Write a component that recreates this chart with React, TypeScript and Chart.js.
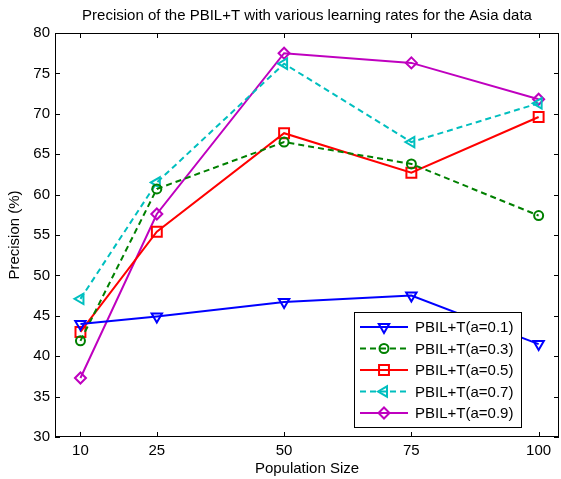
import React, { useEffect, useRef } from "react";
import { Chart, registerables } from "chart.js";
import { drawPoint } from "chart.js/helpers";
Chart.register(...registerables);

const popSizes = [10, 25, 50, 75, 100];
const a01 = [44.0, 44.9, 46.7, 47.5, 41.5];
const a03 = [41.9, 60.7, 66.5, 63.8, 57.4];
const a05 = [43.0, 55.4, 67.6, 62.7, 69.6];
const a07 = [47.1, 61.5, 76.2, 66.5, 71.3];
const a09 = [37.3, 57.6, 77.5, 76.3, 71.8];
const seriesLabels = ["PBIL+T(a=0.1)", "PBIL+T(a=0.3)", "PBIL+T(a=0.5)", "PBIL+T(a=0.7)", "PBIL+T(a=0.9)"];
const yTicks = [30, 35, 40, 45, 50, 55, 60, 65, 70, 75, 80];
const titleText = "Precision of the PBIL+T with various learning rates for the Asia data";
const xTitle = "Population Size";
const yTitle = "Precision (%)";

const FONT = "Liberation Sans, Arial, Helvetica, sans-serif";

const styles = [
  { color: "#0000ff", dash: [] as number[], pointStyle: "triangle", rotation: 180, radius: 6 },
  { color: "#008000", dash: [6, 4], pointStyle: "circle", rotation: 0, radius: 4.5 },
  { color: "#ff0000", dash: [] as number[], pointStyle: "rect", rotation: 0, radius: 7 },
  { color: "#00bfbf", dash: [6, 4], pointStyle: "triangle", rotation: 270, radius: 6 },
  { color: "#bf00bf", dash: [] as number[], pointStyle: "rectRot", rotation: 0, radius: 5.5 },
];

const allSeries = [a01, a03, a05, a07, a09];

const decorPlugin = {
  id: "decor",
  afterDraw(chart: any) {
    const ctx: CanvasRenderingContext2D = chart.ctx;
    const { left, right, top, bottom } = chart.chartArea;
    const xs = chart.scales.x;
    const ys = chart.scales.y;
    ctx.save();
    // box
    ctx.strokeStyle = "#000";
    ctx.lineWidth = 1;
    ctx.setLineDash([]);
    ctx.strokeRect(Math.round(left) + 0.5, Math.round(top) + 0.5, Math.round(right - left) - 1, Math.round(bottom - top) - 1);
    // ticks
    const tl = 5;
    ctx.beginPath();
    for (const v of yTicks) {
      const y = Math.round(ys.getPixelForValue(v)) + 0.5;
      ctx.moveTo(left, y); ctx.lineTo(left + tl, y);
      ctx.moveTo(right, y); ctx.lineTo(right - tl, y);
    }
    for (const v of popSizes) {
      const x = Math.round(xs.getPixelForValue(v)) + 0.5;
      ctx.moveTo(x, bottom); ctx.lineTo(x, bottom - tl);
      ctx.moveTo(x, top); ctx.lineTo(x, top + tl);
    }
    ctx.stroke();
    // titles
    ctx.fillStyle = "#000";
    ctx.textAlign = "center";
    ctx.textBaseline = "middle";
    ctx.font = `15px ${FONT}`;
    ctx.fillText(titleText, (left + right) / 2, 16);
    ctx.fillText(xTitle, (left + right) / 2, 469);
    ctx.save();
    ctx.translate(15, (top + bottom) / 2);
    ctx.rotate(-Math.PI / 2);
    ctx.fillText(yTitle, 0, 0);
    ctx.restore();
    // legend
    const lx0 = right - 205, lx1 = right - 38;
    const ly0 = bottom - 125, ly1 = bottom - 10;
    ctx.fillStyle = "#fff";
    ctx.fillRect(lx0, ly0, lx1 - lx0, ly1 - ly0);
    ctx.strokeStyle = "#000";
    ctx.lineWidth = 1;
    ctx.strokeRect(Math.round(lx0) + 0.5, Math.round(ly0) + 0.5, Math.round(lx1 - lx0), Math.round(ly1 - ly0));
    styles.forEach((s, i) => {
      const cy = ly0 + 15 + i * 21.5;
      ctx.strokeStyle = s.color;
      ctx.lineWidth = 2;
      ctx.setLineDash(s.dash);
      ctx.beginPath();
      ctx.moveTo(lx0 + 6, cy);
      ctx.lineTo(lx0 + 54, cy);
      ctx.stroke();
      ctx.setLineDash([]);
      ctx.fillStyle = "rgba(0,0,0,0)";
      drawPoint(ctx, { pointStyle: s.pointStyle, rotation: s.rotation, radius: s.radius, borderWidth: 2 } as any, lx0 + 30, cy);
      ctx.fillStyle = "#000";
      ctx.font = `15px ${FONT}`;
      ctx.textAlign = "left";
      ctx.textBaseline = "middle";
      ctx.fillText(seriesLabels[i], lx0 + 61, cy + 1);
    });
    ctx.restore();
  },
};

export default function App() {
  const ref = useRef<HTMLCanvasElement>(null);
  useEffect(() => {
    const chart = new Chart(ref.current!, {
      type: "line",
      data: {
        datasets: allSeries.map((arr, i) => ({
          label: seriesLabels[i],
          data: arr.map((v, j) => ({ x: popSizes[j], y: v })),
          borderColor: styles[i].color,
          backgroundColor: "rgba(0,0,0,0)",
          borderWidth: 2,
          borderDash: styles[i].dash,
          pointStyle: styles[i].pointStyle as any,
          rotation: styles[i].rotation,
          pointRadius: styles[i].radius,
          pointBorderWidth: 2,
          pointBorderColor: styles[i].color,
          pointBackgroundColor: "rgba(0,0,0,0)",
          tension: 0,
          fill: false,
        })),
      },
      plugins: [decorPlugin],
      options: {
        animation: false,
        responsive: false,
        devicePixelRatio: 1,
        layout: { autoPadding: false, padding: { top: 33, right: 2, left: 0, bottom: 0 } },
        plugins: { legend: { display: false }, title: { display: false }, tooltip: { enabled: false } },
        scales: {
          x: {
            type: "linear",
            min: 5,
            max: 104,
            afterBuildTicks: (s: any) => { s.ticks = popSizes.map((v) => ({ value: v })); },
            afterFit: (s: any) => { s.height = 42; },
            grid: { display: false, drawTicks: false },
            border: { display: false },
            ticks: { color: "#000", font: { family: FONT, size: 15 }, padding: 5, maxRotation: 0 },
          },
          y: {
            type: "linear",
            min: 30,
            max: 80,
            afterBuildTicks: (s: any) => { s.ticks = yTicks.map((v) => ({ value: v })); },
            afterFit: (s: any) => { s.width = 55; },
            grid: { display: false, drawTicks: false },
            border: { display: false },
            ticks: { color: "#000", font: { family: FONT, size: 15 }, padding: 5 },
          },
        },
      },
    });
    return () => chart.destroy();
  }, []);
  return (
    <div style={{ position: "absolute", left: 0, top: 0, width: 561, height: 479, background: "#fff" }}>
      <canvas ref={ref} width={561} height={479} style={{ display: "block" }} />
    </div>
  );
}
